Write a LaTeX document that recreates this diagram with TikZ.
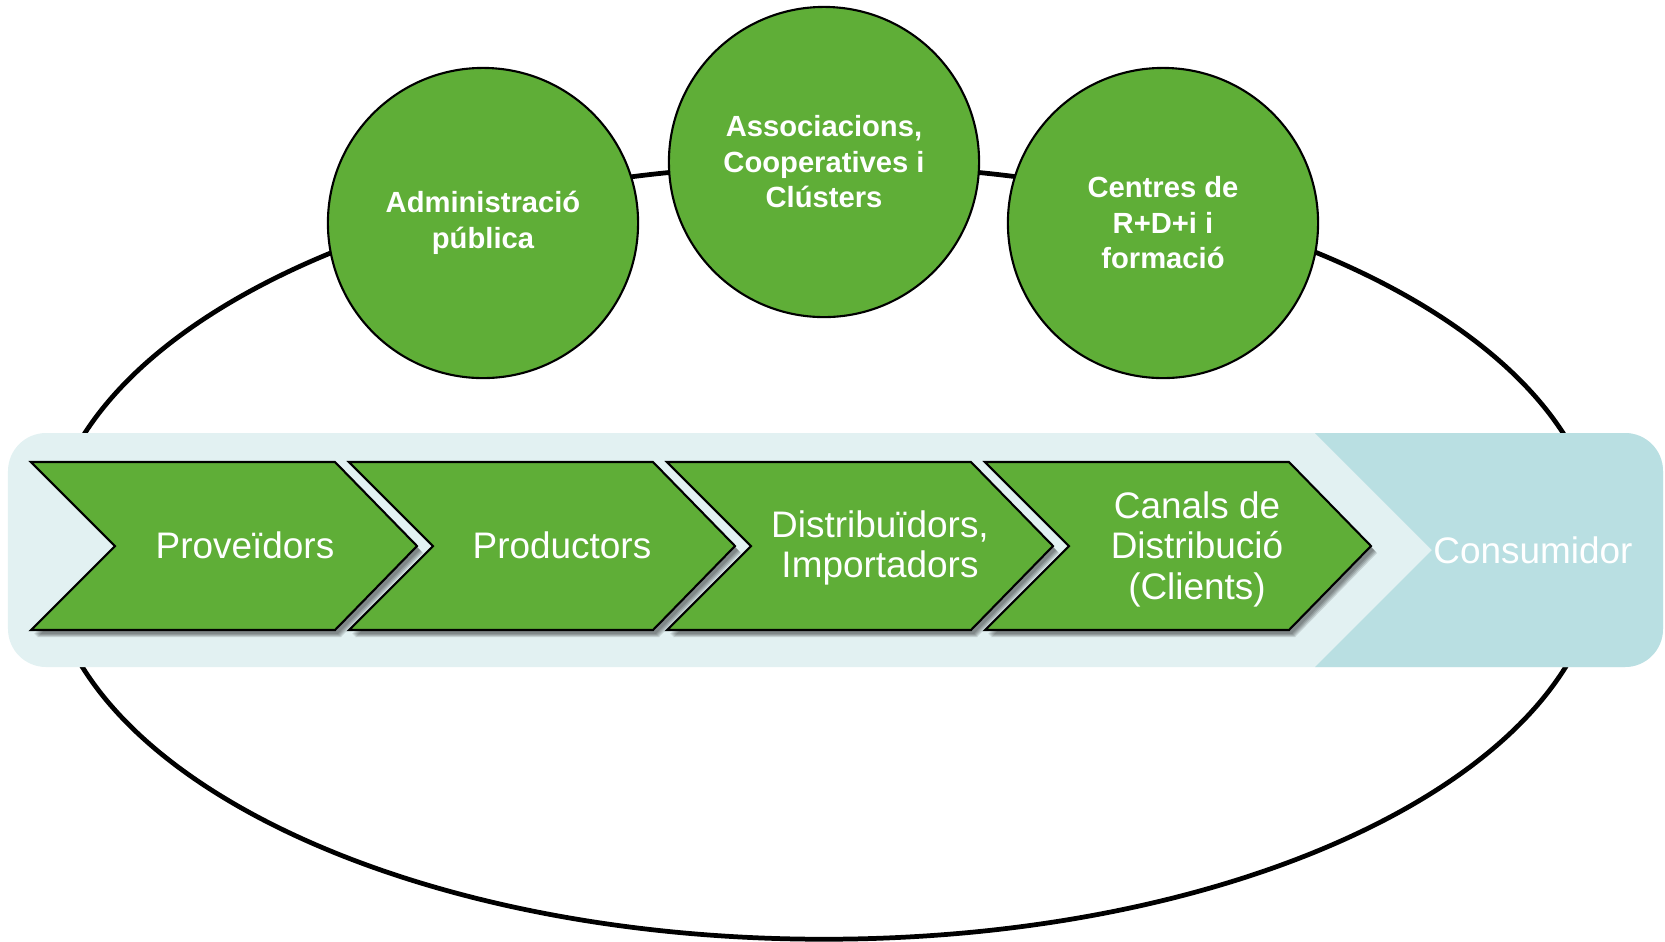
\documentclass[tikz,border=0pt]{standalone}
\usepackage{fontspec}
\setmainfont{Liberation Sans}
\definecolor{grn}{HTML}{5FAE37}
\definecolor{bandlight}{HTML}{E2F1F2}
\definecolor{banddark}{HTML}{B9DFE2}
\tikzset{
  chevbox/.style={fill=grn, draw=black, line width=0.6pt, line join=miter},
  chevshadow/.style={fill=black, opacity=0.13},
  chevtext/.style={text=white, align=center, inner sep=0pt, font=\fontsize{10.5pt}{11.5pt}\selectfont},
  circbox/.style={circle, fill=grn, draw=black, line width=0.6pt, minimum size=3.1cm, inner sep=0pt, text=white, align=center, font=\bfseries\fontsize{8.3pt}{10.1pt}\selectfont},
}
\newcommand\chevpath[1]{(#1,462) -- ++(304,0) -- ++(82,84) -- ++(-82,84) -- ++(-304,0) -- ++(84,-84) -- cycle}
\newcommand\mychev[1]{%
  \foreach \s in {3,4,5,6}{\fill[chevshadow, shift={(\s,\s+1)}] \chevpath{#1};}
  \path[chevbox] \chevpath{#1};}
\begin{document}
\begin{tikzpicture}[x=0.01cm, y=-0.01cm]
\useasboundingbox (0,0) rectangle (1665,941);
% surrounding ellipse
\draw[line width=1.35pt] (824,552) ellipse [x radius=7.76cm, y radius=3.87cm];
% band
\fill[bandlight, rounded corners=0.38cm] (8,433) rectangle (1663,667);
\begin{scope}
  \clip[rounded corners=0.38cm] (8,433) rectangle (1663,667);
  \fill[banddark] (1315,433) -- (1432,550) -- (1315,667) -- (1700,667) -- (1700,433) -- cycle;
\end{scope}
% chevrons
\mychev{31}
\mychev{349}
\mychev{667}
\mychev{985}
\node[chevtext] (prov) at (245,545) {Proveïdors};
\node[chevtext] (prod) at (562,545) {Productors};
\node[chevtext] (dist) at (880,548) {Distribuïdors,\\Importadors};
\node[chevtext] (canal) at (1197,549) {Canals de\\Distribució\\(Clients)};
\node[chevtext] (cons) at (1533,550) {Consumidor};
% circles
\node[circbox] (admin) at (483,223) {Administració\\pública};
\node[circbox] (assoc) at (824,162) {Associacions,\\Cooperatives i\\Clústers};
\node[circbox] (centres) at (1163,223) {Centres de\\R+D+i i\\formació};
\end{tikzpicture}
\end{document}
